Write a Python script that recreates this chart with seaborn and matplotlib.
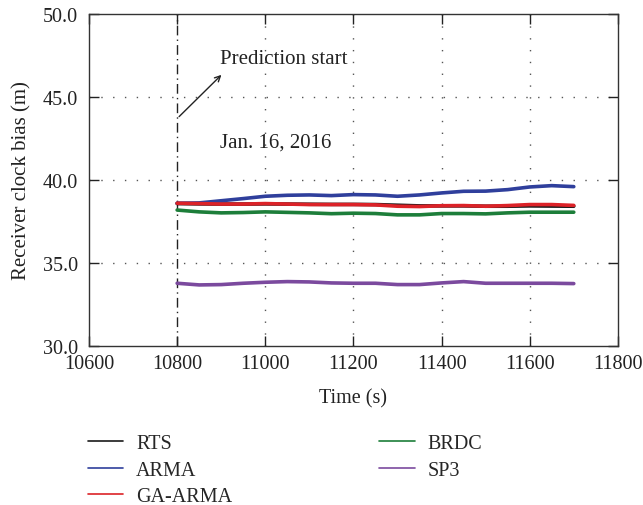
import pandas as pd
import matplotlib
matplotlib.use("Agg")
import matplotlib.pyplot as plt
from matplotlib.lines import Line2D
import seaborn as sns

# Datos (cada 50 s)
time_s = [10800, 10850, 10900, 10950, 11000, 11050, 11100, 11150, 11200, 11250,
          11300, 11350, 11400, 11450, 11500, 11550, 11600, 11650, 11700]
rts = [38.58, 38.56, 38.55, 38.55, 38.56, 38.55, 38.54, 38.53, 38.53, 38.52,
       38.48, 38.44, 38.44, 38.44, 38.42, 38.42, 38.44, 38.43, 38.42]
arma = [38.60, 38.62, 38.75, 38.88, 39.02, 39.08, 39.10, 39.06, 39.12, 39.10,
        39.02, 39.10, 39.22, 39.32, 39.33, 39.42, 39.58, 39.66, 39.60]
ga_arma = [38.60, 38.58, 38.55, 38.55, 38.58, 38.55, 38.52, 38.52, 38.52, 38.50,
           38.42, 38.40, 38.45, 38.46, 38.42, 38.46, 38.52, 38.52, 38.47]
brdc = [38.19, 38.08, 38.02, 38.04, 38.08, 38.05, 38.02, 37.97, 38.00, 37.98,
        37.90, 37.90, 37.98, 37.98, 37.96, 38.02, 38.06, 38.06, 38.06]
sp3 = [33.78, 33.68, 33.70, 33.78, 33.84, 33.88, 33.86, 33.80, 33.78, 33.78,
       33.70, 33.70, 33.80, 33.88, 33.78, 33.78, 33.78, 33.78, 33.76]

series_names = ["RTS", "ARMA", "GA-ARMA", "BRDC", "SP3"]
colors = ["#1a1a1a", "#2f3f9c", "#dc2228", "#1d7e3a", "#7b4a9e"]

rows = []
for name, vals in zip(series_names, [rts, arma, ga_arma, brdc, sp3]):
    for t, v in zip(time_s, vals):
        rows.append({"time": t, "bias": v, "method": name})
df = pd.DataFrame(rows)

sns.set_style("ticks")
plt.rcParams["font.family"] = ["Liberation Serif", "DejaVu Serif"]
fs = 14.5

fig = plt.figure(figsize=(6.43, 5.06), dpi=100)
ax = fig.add_axes([0.1384, 0.3142, 0.8225, 0.6562])

# orden de dibujo: BRDC y SP3 primero, rojo por encima del negro
draw_order = ["BRDC", "SP3", "RTS", "ARMA", "GA-ARMA"]
palette = dict(zip(series_names, colors))
sns.lineplot(data=df, x="time", y="bias", hue="method", hue_order=draw_order,
             palette=palette, linewidth=2.6, legend=False, ax=ax)

ax.set_xlim(10600, 11800)
ax.set_ylim(30, 50)
ax.set_xticks(range(10600, 11801, 200))
ax.set_yticks([30, 35, 40, 45, 50])
ax.set_yticklabels(["30.0", "35.0", "40.0", "45.0", "50.0"])
ax.tick_params(direction="in", length=7.5, width=1, top=True, right=True,
               labelsize=fs, colors="#222222")
ax.tick_params(axis="y", pad=8)
ax.tick_params(axis="x", pad=6)
for s in ax.spines.values():
    s.set_color("#333333")
    s.set_linewidth(1.0)

# rejilla punteada interior
for y in [35, 40, 45]:
    ax.axhline(y, color="#555555", linestyle=(0, (1, 7.5)), linewidth=1, zorder=0)
for x in [11000, 11200, 11400, 11600]:
    ax.axvline(x, color="#555555", linestyle=(0, (1, 7.5)), linewidth=1, zorder=0)
ax.axvline(10800, color="#222222", linestyle=(0, (7, 3, 1, 3)), linewidth=1, zorder=1)

ax.set_xlabel("Time (s)", fontsize=fs, color="#222222", labelpad=11)
ax.set_ylabel("Receiver clock bias (m)", fontsize=15, color="#222222", labelpad=8)

ax.annotate("", xy=(10905, 46.45), xytext=(10800, 43.7),
            arrowprops=dict(arrowstyle="->", color="#222222", lw=1))
ax.text(10897, 47.3, "Prediction start", fontsize=15, color="#222222", va="center")
ax.text(10897, 42.3, "Jan. 16, 2016", fontsize=15, color="#222222", va="center")

handles = [Line2D([0], [0], color=c, lw=1.2) for c in colors]
fig.legend(handles, series_names, ncol=2, frameon=False, fontsize=fs,
           loc="upper left", bbox_to_anchor=(0.124, 0.156), handlelength=1.75,
           handletextpad=0.65, columnspacing=7.3, labelspacing=0.36,
           borderaxespad=0)

fig.savefig("out.png", dpi=100)
